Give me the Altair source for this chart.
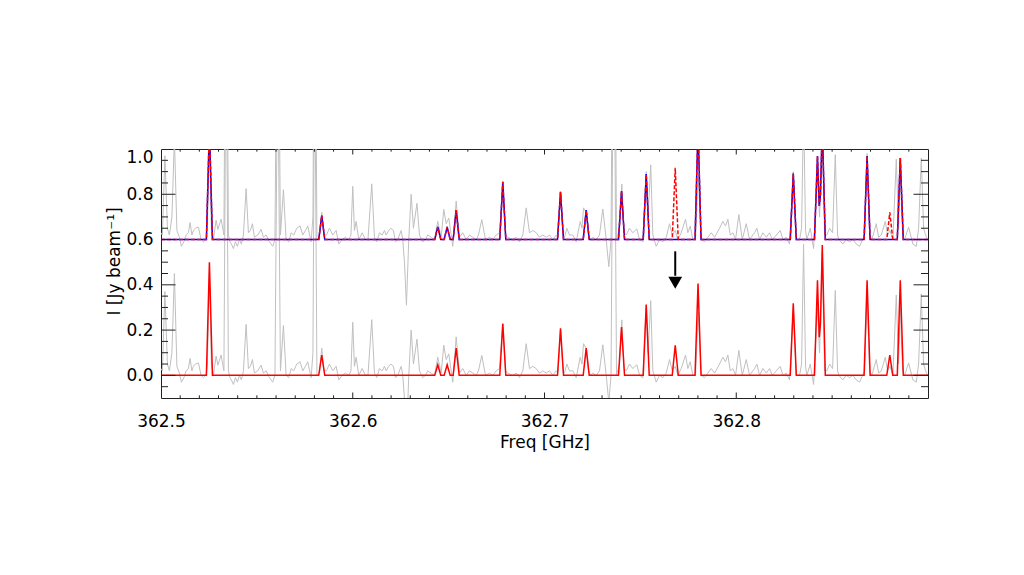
import altair as alt
import pandas as pd

# ---------------- observed spectrum (lower copy; upper copy is shifted by +0.6) ----
gray_freq = [
    362.5000, 362.50073, 362.50203, 362.50334, 362.50438, 362.50569, 362.50699, 362.50829,
    362.50960, 362.51064, 362.51195, 362.51309, 362.51429, 362.51518, 362.51612, 362.51690,
    362.51794, 362.51951, 362.52092, 362.52212, 362.52342, 362.52420, 362.52525, 362.52629,
    362.52733, 362.52874, 362.52968, 362.53135, 362.53281, 362.53396, 362.53516, 362.53594,
    362.53672, 362.53777, 362.53881, 362.53985, 362.54090, 362.54194, 362.54298, 362.54439,
    362.54559, 362.54664, 362.54768, 362.54872, 362.55044, 362.55222, 362.55342, 362.55482,
    362.55655, 362.55827, 362.55942, 362.56088, 362.56228, 362.56385, 362.56526, 362.56661,
    362.56787, 362.56922, 362.57079, 362.57256, 362.57392, 362.57533, 362.57653, 362.57830,
    362.57924, 362.58013, 362.58133, 362.58263, 362.58383, 362.58498, 362.58628, 362.58785,
    362.58957, 362.59134, 362.59270, 362.59447, 362.59619, 362.59791, 362.59906, 362.60000,
    362.60089, 362.60177, 362.60313, 362.60490, 362.60663, 362.60793, 362.60991, 362.61132,
    362.61252, 362.61393, 362.61534, 362.61654, 362.61742, 362.61878, 362.61982, 362.62123,
    362.62227, 362.62347, 362.62525, 362.62608, 362.62697, 362.62801, 362.62921, 362.63046,
    362.63166, 362.63349, 362.63479, 362.63652, 362.63792, 362.63912, 362.64090, 362.64262,
    362.64434, 362.64611, 362.64747, 362.64872, 362.65008, 362.65133, 362.65216, 362.65394,
    362.65566, 362.65738, 362.65916, 362.66088, 362.66260, 362.66437, 362.66557, 362.66729,
    362.66922, 362.67131, 362.67303, 362.67481, 362.67653, 362.67825, 362.67966, 362.68086,
    362.68346, 362.68524, 362.68696, 362.68868, 362.69046, 362.69217, 362.69390, 362.69567,
    362.69739, 362.69911, 362.70089, 362.70261, 362.70433, 362.70610, 362.70704, 362.70835,
    362.70965, 362.71043, 362.71163, 362.71304, 362.71476, 362.71654, 362.71862, 362.71956,
    362.72034, 362.72175, 362.72295, 362.72400, 362.72520, 362.72697, 362.72869, 362.73041,
    362.73219, 362.73354, 362.73469, 362.73615, 362.73756, 362.73912, 362.74032, 362.74147,
    362.74262, 362.74434, 362.74606, 362.74815, 362.74956, 362.75128, 362.75305, 362.75399,
    362.75540, 362.75650, 362.75827, 362.75999, 362.76171, 362.76349, 362.76521, 362.76662,
    362.76818, 362.76954, 362.77131, 362.77355, 362.77475, 362.77601, 362.77736, 362.77877,
    362.78018, 362.78175, 362.78347, 362.78519, 362.78696, 362.78868, 362.78999, 362.79129,
    362.79301, 362.79442, 362.79562, 362.79687, 362.79823, 362.79964, 362.80136, 362.80313,
    362.80522, 362.80694, 362.80866, 362.80955, 362.81075, 362.81215, 362.81388, 362.81565,
    362.81737, 362.81878, 362.82087, 362.82295, 362.82431, 362.82608, 362.82781, 362.82974,
    362.83130, 362.83302, 362.83407, 362.83511, 362.83615, 362.83683, 362.83860, 362.84033,
    362.84226, 362.84346, 362.84487, 362.84606, 362.84726, 362.84867, 362.85024, 362.85164,
    362.85284, 362.85352, 362.85561, 362.85738, 362.85910, 362.86083, 362.86260, 362.86432,
    362.86589, 362.86693, 362.86824, 362.86954, 362.87074, 362.87303, 362.87423, 362.87564,
    362.87773, 362.87893, 362.88013, 362.88169, 362.88346, 362.88466, 362.88555, 362.88675,
    362.88779, 362.88988, 362.89212, 362.89390, 362.89510, 362.89650, 362.89770, 362.89874,
    362.89979,
]
gray_flux = [
    0.03, 0.02, 0.37, 0.05, 0.02, 0.10, 0.45, 0.04,
    0.01, -0.03, -0.01, 0.02, 0.03, 0.075, 0.02, 0.04,
    0.05, 0.055, 0.00, -0.01, 0.00, 0.05, 0.45, 0.05,
    0.00, 0.085, 0.045, 0.09, 0.02, 1.60, 0.02, -0.01,
    -0.02, -0.04, -0.01, -0.03, 0.00, -0.02, 0.02, 0.225,
    0.03, 0.04, 0.07, 0.01, 0.02, 0.045, 0.01, 0.02,
    -0.01, -0.03, 0.00, 1.50, 0.02, 0.22, 0.00, -0.01,
    0.03, 0.02, 0.05, 0.06, 0.02, 0.04, 0.06, -0.01,
    0.10, 1.50, 0.00, 0.01, 0.12, 0.02, 0.02, 0.05,
    0.02, 0.04, -0.02, 0.00, 0.01, 0.00, 0.02, 0.235,
    0.04, 0.08, 0.00, 0.03, 0.00, 0.00, 0.246, 0.01,
    -0.01, 0.03, 0.02, 0.04, 0.02, 0.04, 0.05, 0.04,
    -0.01, 0.00, 0.04, 0.00, -0.10, -0.29, 0.00, 0.20,
    0.05, 0.16, 0.02, -0.01, 0.00, 0.02, 0.01, 0.00,
    0.08, 0.01, 0.133, 0.07, 0.095, 0.02, -0.03, 0.17,
    0.01, 0.03, 0.00, 0.02, 0.01, 0.00, 0.02, 0.088,
    0.00, 0.01, 0.00, 0.02, 0.03, 0.23, 0.02, 0.01,
    0.00, 0.01, -0.01, 0.02, 0.14, 0.03, 0.04, 0.03,
    0.01, 0.02, 0.01, 0.02, 0.00, 0.02, 0.01, 0.20,
    0.02, 0.01, 0.05, 0.02, 0.02, -0.01, 0.08, 0.05,
    0.14, 0.12, 0.02, 0.00, 0.01, 0.00, 0.02, 0.135,
    0.00, -0.12, 0.00, 1.80, 0.00, 0.05, 0.245, 0.03,
    0.02, 0.05, 0.03, 0.047, 0.00, -0.01, 0.30, 0.10,
    0.33, 0.02, -0.03, 0.00, -0.01, 0.01, 0.07, 0.02,
    0.04, 0.00, 0.03, 0.09, 0.03, 0.06, 0.00, 0.00,
    0.28, 0.00, -0.01, 0.01, 0.03, 0.01, 0.03, 0.05,
    0.08, 0.06, 0.09, 0.02, 0.03, 0.00, 0.11, 0.00,
    0.07, 0.00, 0.02, 0.03, 0.05, 0.00, 0.03, 0.01,
    0.03, 0.00, 0.02, 0.04, 0.00, 0.01, -0.02, 0.30,
    0.00, 0.00, 0.05, 0.58, 0.04, 0.00, 0.05, -0.04,
    0.30, 0.10, 0.55, 0.02, 0.02, 0.05, 0.03, 0.375,
    0.02, 0.00, -0.02, 0.00, -0.01, 0.00, -0.02, -0.03,
    0.00, 0.02, 0.38, 0.02, 0.00, 0.07, 0.01, 0.02,
    0.08, 0.02, 0.04, 0.00, 0.355, 0.05, 0.30, 0.02,
    0.00, 0.055, -0.02, -0.03, 0.05, 0.36, 0.05, 0.02,
    0.00,
]

# ---------------- model lines ----------------
line_freq = [362.52525, 362.58383, 362.64434, 362.64924, 362.65394, 362.67825,
             362.70835, 362.72175, 362.74017, 362.75305, 362.76818, 362.78007,
             362.82974, 362.84236, 362.84487, 362.86824, 362.88007, 362.88555]
lower_height = [0.50, 0.09, 0.047, 0.047, 0.12, 0.228,
                0.208, 0.12, 0.213, 0.313, 0.133, 0.406,
                0.318, 0.42, 0.576, 0.42, 0.09, 0.42]
upper_height = [0.50, 0.106, 0.056, 0.056, 0.13, 0.255,
                0.211, 0.13, 0.214, 0.289, 0.317, 0.50,
                0.292, 0.369, 0.50, 0.369, 0.12, 0.36]
in_blue_model = [True, True, True, True, True, True,
                 True, True, True, True, False, True,
                 True, True, True, True, False, True]

# arrow marking the line
arrow_freq = [362.76818]
arrow_top = [0.548]
arrow_tail_end = [0.44]
arrow_head = [0.409]

# tick labels / tick positions
x_labels = [362.5, 362.6, 362.7, 362.8]
y_labels = [0.0, 0.2, 0.4, 0.6, 0.8, 1.0]
x_major = [362.6, 362.7, 362.8]
x_minor = [round(362.5 + 0.01 * i, 2) for i in range(1, 40) if i % 10 != 0]
y_major = [0.0, 0.2, 0.4, 0.6, 0.8]
y_minor = [-0.05, 0.05, 0.1, 0.15, 0.25, 0.3, 0.35, 0.45, 0.5, 0.55, 0.65, 0.7, 0.75, 0.85, 0.9, 0.95]

OFFSET = 0.6
HALF = 0.00157
XMIN, XMAX = 362.5, 362.9
W, H = 767, 249


def profile(centers, heights):
    xs = {XMIN, XMAX}
    for c in centers:
        xs.update([c - HALF, c, c + HALF])
    xs = sorted(x for x in xs if XMIN <= x <= XMAX)
    ys = []
    for x in xs:
        s = 0.0
        for c, h in zip(centers, heights):
            d = abs(x - c)
            if d < HALF:
                s += h * (1 - d / HALF)
        ys.append(s)
    return xs, ys


lx, ly = profile(line_freq, lower_height)
bx, by = profile([f for f, b in zip(line_freq, in_blue_model) if b],
                 [h for h, b in zip(upper_height, in_blue_model) if b])
rx, ry = profile(line_freq, upper_height)

df_gray_low = pd.DataFrame({"freq": gray_freq, "flux": gray_flux})
df_gray_up = pd.DataFrame({"freq": gray_freq, "flux": [v + OFFSET for v in gray_flux]})
df_red_low = pd.DataFrame({"freq": lx, "flux": ly})
df_blue = pd.DataFrame({"freq": bx, "flux": [v + OFFSET for v in by]})
df_red_dash = pd.DataFrame({"freq": rx, "flux": [v + OFFSET for v in ry]})

FONT = "DejaVu Sans"
xscale = alt.Scale(domain=[XMIN, XMAX], nice=False, zero=False)
yscale = alt.Scale(domain=[-0.1, 1.0], nice=False, zero=False)

x_axis = alt.Axis(values=x_labels, format=".1f", labelFlush=False, ticks=False, domain=False,
                  grid=False, labelPadding=15, labelFontSize=17, labelFont=FONT,
                  labelColor="black", title="Freq [GHz]", titleFont=FONT, titleFontSize=17,
                  titleFontWeight="normal", titleColor="black", titleY=44,
                  titleBaseline="middle")
y_axis = alt.Axis(values=y_labels, format=".1f", labelFlush=True, ticks=False, domain=False,
                  grid=False, labelPadding=8, labelFontSize=17, labelFont=FONT,
                  labelColor="black", title="I [Jy beam⁻¹]", titleFont=FONT, titleFontSize=17,
                  titleFontWeight="normal", titleColor="black", titleX=-47, titleY=112,
                  titleAngle=270, titleBaseline="middle")

X = alt.X("freq:Q", scale=xscale, axis=x_axis)
Y = alt.Y("flux:Q", scale=yscale, axis=y_axis)

GRAY = "#c0c0c0"
gray_low = alt.Chart(df_gray_low).mark_line(color=GRAY, strokeWidth=1, clip=True).encode(x=X, y=Y)
gray_up = alt.Chart(df_gray_up).mark_line(color=GRAY, strokeWidth=1, clip=True).encode(x=X, y=Y)
blue = alt.Chart(df_blue).mark_line(color="#0000ff", strokeWidth=1.5, clip=True).encode(x=X, y=Y)
red_dash = alt.Chart(df_red_dash).mark_line(color="#ff0000", strokeWidth=1.5, strokeDash=[4, 2],
                                            clip=True).encode(x=X, y=Y)
red_low = alt.Chart(df_red_low).mark_line(color="#ff0000", strokeWidth=1.5, clip=True).encode(x=X, y=Y)

# inward ticks on all four sides
TICK_COLOR = "#222222"
dfxM = pd.DataFrame({"freq": x_major})
dfxm = pd.DataFrame({"freq": x_minor})
dfyM = pd.DataFrame({"flux": y_major})
dfym = pd.DataFrame({"flux": y_minor})


def xticks(df, length):
    bottom = alt.Chart(df).mark_rule(color=TICK_COLOR, strokeWidth=1).encode(
        x=X, y=alt.value(H), y2=alt.value(H - length))
    top = alt.Chart(df).mark_rule(color=TICK_COLOR, strokeWidth=1).encode(
        x=X, y=alt.value(0), y2=alt.value(length))
    return [bottom, top]


def yticks(df, length):
    left = alt.Chart(df).mark_rule(color=TICK_COLOR, strokeWidth=1).encode(
        y=Y, x=alt.value(0), x2=alt.value(length))
    right = alt.Chart(df).mark_rule(color=TICK_COLOR, strokeWidth=1).encode(
        y=Y, x=alt.value(W), x2=alt.value(W - length))
    return [left, right]


ticks = xticks(dfxM, 5.5) + xticks(dfxm, 2.7) + yticks(dfyM, 14.5) + yticks(dfym, 7)

df_arrow = pd.DataFrame({"freq": arrow_freq, "flux": arrow_top, "flux2": arrow_tail_end,
                         "head": arrow_head})
arrow_shaft = alt.Chart(df_arrow).mark_rule(color="black", strokeWidth=2).encode(
    x=X, y=Y, y2="flux2:Q")
arrow_tip = alt.Chart(df_arrow).mark_point(shape="triangle-down", filled=True, color="black",
                                           size=190, opacity=1).encode(
    x=X, y=alt.Y("head:Q", scale=yscale, axis=y_axis))

chart = alt.layer(gray_low, gray_up, blue, red_dash, red_low, *ticks, arrow_shaft, arrow_tip).properties(
    width=W, height=H,
    autosize=alt.AutoSizeParams(type="none"),
    padding={"left": 161, "top": 149, "right": 96, "bottom": 177},
    background="white",
).configure_view(stroke="#222222", strokeWidth=1)

chart.save("out.html", embed_options={"renderer": "svg", "actions": False})
